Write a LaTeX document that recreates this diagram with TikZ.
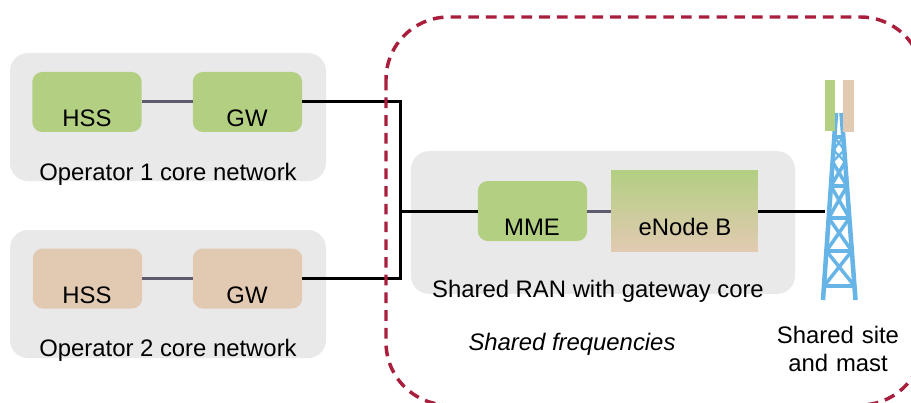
\documentclass[tikz,border=0pt]{standalone}
\usepackage{fontspec}
\setmainfont{Liberation Sans}
\usepackage{tikz}
\definecolor{coregreen}{HTML}{B2CF82}
\definecolor{coretan}{HTML}{E2CAB2}
\definecolor{panelgrey}{HTML}{E9E9E9}
\definecolor{sharedred}{HTML}{A81E3C}
\definecolor{mastblue}{HTML}{66B5E6}
\definecolor{linkgrey}{HTML}{5F5A6E}
\tikzset{
	panel/.style={fill=panelgrey, rounded corners=13.5pt, minimum width=237pt, minimum height=96pt, inner sep=0pt},
	unit/.style={rounded corners=7.5pt, minimum width=82pt, minimum height=45pt, inner sep=0pt},
	word/.style={inner sep=0pt, font=\fontsize{17.9}{21.7}\selectfont, align=center},
	link/.style={line width=2.25pt, color=linkgrey},
	trunk/.style={line width=2.25pt, color=black},
	leg/.style={line width=3.4pt, color=mastblue},
	brace/.style={line width=2.6pt, color=mastblue},
}
\begin{document}
\begin{tikzpicture}[x=0.75pt, y=-0.75pt]
		%%%%% START %%%%%
		\clip (0, 0) rectangle (911, 403);
		\fill[white] (0, 0) rectangle (911, 403);
		
		\node[panel] (core1) at (168, 117) {};
		\node[panel] (core2) at (168, 294) {};
		\node[panel, minimum width=288pt, minimum height=107pt] (ran) at (603, 222.5) {};
		
		\node[unit, fill=coregreen] (hss1) at (87, 102) {};
		\node[unit, fill=coregreen] (gw1) at (247.5, 102) {};
		\node[unit, fill=coretan] (hss2) at (87.5, 278.5) {};
		\node[unit, fill=coretan] (gw2) at (247.5, 278.5) {};
		\node[unit, fill=coregreen] (mme) at (532.5, 211) {};
		\node[top color=coregreen, bottom color=coretan, minimum width=110pt, minimum height=61pt, inner sep=0pt] (enb) at (684.5, 211) {};
		
		\coordinate (junction) at (400, 211);
		\coordinate (mast) at (825, 211);
		
		\draw[link] (hss1) -- (gw1);
		\draw[link] (hss2) -- (gw2);
		\draw[link] (mme) -- (enb);
		\draw[trunk, sharp corners] (gw1.east) -| (junction);
		\draw[trunk, sharp corners] (gw2.east) -| (junction);
		\draw[trunk] (junction) -- (mme);
		\draw[trunk] (enb) -- (mast);
		
		\node[word] (hss1text) at (87, 118) {HSS};
		\node[word] (gw1text) at (247, 118) {GW};
		\node[word] (core1text) at (168, 174) {Operator 1 core network};
		\node[word] (hss2text) at (87, 295) {HSS};
		\node[word] (gw2text) at (247, 295) {GW};
		\node[word] (core2text) at (168, 350) {Operator 2 core network};
		\node[word] (mmetext) at (532, 227) {MME};
		\node[word] (enbtext) at (685, 227) {eNode B};
		\node[word] (rantext) at (598, 291) {Shared RAN with gateway core};
		\node[word, font=\fontsize{17.9}{21.7}\selectfont\itshape] (freqtext) at (572, 344) {Shared frequencies};
		\node[word, text width=120pt] (sitetext) at (838, 349) {Shared site\\and mast};
		
		% mast
		\draw[leg] (823, 300) -- (836, 113);
		\draw[leg] (855.5, 300) -- (841.5, 113);
		\foreach \xa/\xb/\ya in {824/854.5/286, 826.4/851.8/251, 828.7/849.4/218, 830.9/847/186, 834.3/843.3/137}
			\draw[brace] (\xa, \ya) -- (\xb, \ya);
		\foreach \xa/\xb/\xc/\xd/\ya/\yb in {824/854.5/826.4/851.8/286/251, 826.4/851.8/828.7/849.4/251/218, 828.7/849.4/830.9/847/218/186, 830.9/847/832.6/845.2/186/162}
		{
			\draw[brace] (\xa, \ya) -- (\xd, \yb);
			\draw[brace] (\xb, \ya) -- (\xc, \yb);
		}
		\draw[line width=1.6pt, color=mastblue] (832.6, 162) -- (844.3, 150) -- (834.3, 137) -- (843.3, 137) -- (833.4, 150) -- (845.2, 162);
		\fill[coregreen] (825, 80) rectangle (835, 131);
		\fill[coretan] (843, 80) rectangle (854, 132);
		
		\draw[line width=2.6pt, color=sharedred, rounded corners=47pt, dash pattern=on 8pt off 5.3pt] (386, 17) rectangle (923, 405);
		%%%%% END %%%%%
	\end{tikzpicture}
\end{document}
